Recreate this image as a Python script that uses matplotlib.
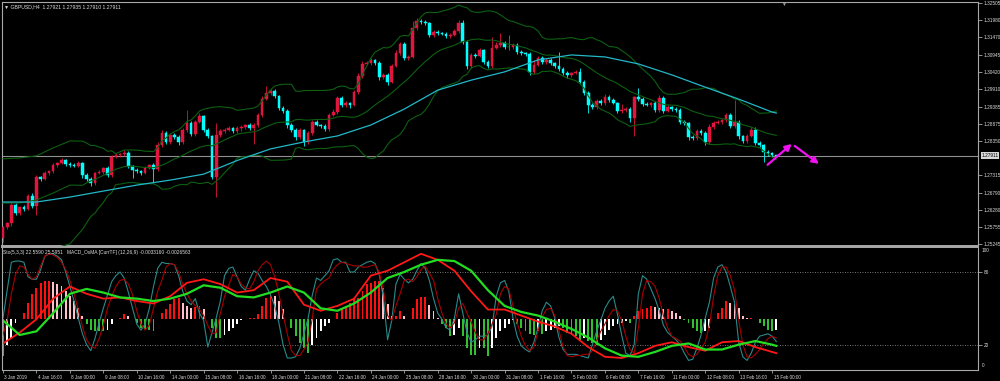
import numpy as np
import pandas as pd
import matplotlib
matplotlib.use('Agg')
import matplotlib.pyplot as plt
import matplotlib.transforms as mtransforms

plt.rcParams['font.family'] = ['Liberation Sans', 'DejaVu Sans']

# GBPUSD H4 closes, 3 Jan 08:00 .. 15 Feb 2019
closes = [
    1.2576, 1.2588, 1.2642, 1.2618, 1.2636, 1.2630, 1.2669, 1.2639, 1.2726, 1.2720,
    1.2738, 1.2744, 1.2763, 1.2769, 1.2778, 1.2766, 1.2763, 1.2760, 1.2769, 1.2732,
    1.2720, 1.2708, 1.2738, 1.2741, 1.2754, 1.2732, 1.2787, 1.2793, 1.2796, 1.2799,
    1.2760, 1.2748, 1.2744, 1.2738, 1.2754, 1.2763, 1.2751, 1.2823, 1.2859, 1.2832,
    1.2853, 1.2847, 1.2832, 1.2868, 1.2889, 1.2856, 1.2892, 1.2910, 1.2868, 1.2850,
    1.2726, 1.2853, 1.2865, 1.2868, 1.2874, 1.2865, 1.2874, 1.2877, 1.2883, 1.2874,
    1.2883, 1.2913, 1.2961, 1.2979, 1.2985, 1.2970, 1.2934, 1.2925, 1.2883, 1.2868,
    1.2847, 1.2868, 1.2832, 1.2859, 1.2892, 1.2883, 1.2880, 1.2871, 1.2913, 1.2922,
    1.2964, 1.2943, 1.2949, 1.2943, 1.2982, 1.3031, 1.3067, 1.3070, 1.3079, 1.3070,
    1.3028, 1.3034, 1.3013, 1.3061, 1.3100, 1.3127, 1.3085, 1.3088, 1.3175, 1.3196,
    1.3193, 1.3190, 1.3154, 1.3163, 1.3160, 1.3157, 1.3151, 1.3154, 1.3166, 1.3190,
    1.3133, 1.3061, 1.3094, 1.3091, 1.3109, 1.3073, 1.3061, 1.3115, 1.3124, 1.3130,
    1.3118, 1.3118, 1.3124, 1.3103, 1.3100, 1.3097, 1.3043, 1.3064, 1.3085, 1.3073,
    1.3079, 1.3070, 1.3061, 1.3052, 1.3040, 1.3034, 1.3040, 1.3043, 1.3013, 1.2979,
    1.2943, 1.2937, 1.2955, 1.2949, 1.2967, 1.2958, 1.2949, 1.2925, 1.2928, 1.2931,
    1.2904, 1.2967, 1.2961, 1.2946, 1.2943, 1.2949, 1.2928, 1.2964, 1.2925, 1.2937,
    1.2931, 1.2928, 1.2892, 1.2889, 1.2847, 1.2844, 1.2865, 1.2859, 1.2832, 1.2877,
    1.2889, 1.2892, 1.2898, 1.2913, 1.2880, 1.2892, 1.2850, 1.2835, 1.2850, 1.2868,
    1.2829, 1.2823, 1.2802, 1.2799, 1.27921, 1.27911,
]
first_open = 1.2543
# wick lengths in pips above/below the body
upper_wick = [
    3, 4, 6, 5, 4, 6, 5, 8, 6, 4,  5, 4, 6, 3, 5, 4, 6, 5, 7, 4,
    5, 6, 4, 5, 3, 6, 5, 7, 4, 9,  5, 4, 6, 3, 5, 4, 6, 8, 9, 5,
    4, 6, 5, 7, 39, 5, 6, 8, 4, 5,  4, 36, 6, 5, 7, 4, 6, 5, 4, 6,
    5, 6, 8, 21, 6, 5, 4, 6, 5, 7,  5, 6, 4, 5, 7, 6, 4, 5, 6, 8,
    6, 5, 7, 4, 6, 8, 9, 5, 6, 4,  5, 7, 6, 5, 8, 7, 5, 6, 21, 9,
    6, 5, 4, 6, 5, 4, 6, 5, 7, 8,  9, 5, 6, 7, 5, 4, 6, 33, 8, 30,
    6, 36, 7, 5, 6, 4, 5, 15, 6, 7,  5, 6, 4, 42, 6, 5, 4, 5, 12, 6,
    5, 6, 7, 5, 9, 6, 5, 4, 18, 6,  5, 4, 27, 6, 5, 4, 6, 9, 5, 6,
    4, 5, 6, 5, 4, 6, 5, 7, 6, 8,  5, 6, 4, 7, 6, 66, 5, 4, 6, 8,
    9, 5, 4, 5, 3, 1.4,
]
lower_wick = [
    12, 5, 8, 6, 5, 7, 4, 6, 27, 5,  4, 6, 5, 7, 4, 5, 6, 4, 5, 8,
    6, 9, 5, 4, 6, 7, 5, 4, 6, 5,  7, 24, 5, 6, 4, 5, 42, 6, 5, 7,
    5, 6, 8, 5, 6, 7, 5, 4, 6, 7,  6, 60, 5, 7, 4, 6, 5, 8, 5, 6,
    48, 5, 6, 4, 5, 7, 6, 5, 8, 6,  9, 5, 12, 6, 5, 4, 7, 6, 5, 4,
    6, 7, 5, 8, 4, 5, 6, 4, 5, 7,  8, 6, 9, 5, 4, 6, 7, 5, 4, 5,
    5, 6, 7, 5, 6, 4, 5, 6, 4, 5,  6, 8, 5, 6, 4, 7, 6, 5, 4, 6,
    5, 10, 6, 5, 7, 6, 8, 5, 4, 6,  5, 6, 7, 5, 6, 8, 5, 4, 6, 7,
    24, 6, 5, 7, 5, 6, 4, 7, 6, 5,  12, 54, 5, 6, 4, 5, 7, 6, 5, 4,
    6, 5, 7, 6, 9, 5, 6, 5, 10, 6,  5, 4, 6, 5, 7, 6, 8, 5, 6, 4,
    7, 6, 30, 9, 6, 0.1,
]

# cyan moving average, read every 8 bars (+ last bar)
ma_bars = list(range(0, 185, 8)) + [185]
ma_vals = [1.2651, 1.2651, 1.2666, 1.2684, 1.2702, 1.2717, 1.2735, 1.2776, 1.2811,
           1.2832, 1.2850, 1.2883, 1.2931, 1.2988, 1.3018, 1.3043, 1.3079, 1.3094,
           1.3088, 1.3067, 1.3034, 1.2997, 1.2961, 1.2922, 1.2919]

# Bollinger bands before 20 bars of history are available on screen
bb_early_bars = [0, 4, 8, 12, 16]
bb_early_upper = [1.2781, 1.2784, 1.2790, 1.2814, 1.2835]
bb_early_mid = [1.2648, 1.2648, 1.2657, 1.2678, 1.2702]
bb_early_lower = [1.2490, 1.2494, 1.2500, 1.2510, 1.2525]

price_ticks = [1.32505, 1.31980, 1.31470, 1.30945, 1.30420, 1.29910, 1.29385,
               1.28875, 1.28350, 1.27315, 1.26790, 1.26280, 1.25755, 1.25245]
last_price = 1.27911

time_labels = ['3 Jan 2019', '4 Jan 16:00', '8 Jan 00:00', '9 Jan 08:00', '10 Jan 16:00',
               '14 Jan 00:00', '15 Jan 08:00', '16 Jan 16:00', '18 Jan 00:00', '21 Jan 08:00',
               '22 Jan 16:00', '24 Jan 00:00', '25 Jan 08:00', '28 Jan 16:00', '30 Jan 00:00',
               '31 Jan 08:00', '1 Feb 16:00', '5 Feb 00:00', '6 Feb 08:00', '7 Feb 16:00',
               '11 Feb 00:00', '12 Feb 08:00', '13 Feb 16:00', '15 Feb 00:00']
label_bars = list(range(0, 185, 8))

# forecast arrows (start, end, start, end)
fc_bars = [182.9, 188.7, 189.4, 195.2]
fc_prices = [1.2763, 1.2826, 1.2820, 1.2766]

# Stochastic (5,3,3) main / signal
sto_main = [
    42, 65, 88, 89, 89, 88, 76, 74, 74, 82,  93, 95, 95, 93, 90, 80, 68, 56, 42, 29,
    20, 15, 25, 38, 50, 61, 72, 77, 80, 75,  63, 50, 37, 32, 37, 50, 68, 83, 88, 87,
    87, 86, 77, 64, 56, 53, 58, 46, 40, 18,  30, 42, 56, 77, 83, 84, 76, 68, 65, 74,
    81, 79, 73, 68, 61, 52, 38, 20, 9, 9,  10, 17, 29, 42, 61, 75, 73, 77, 81, 90,
    91, 88, 88, 80, 80, 84, 86, 88, 89, 87,  78, 59, 24, 40, 70, 78, 74, 71, 74, 81,
    87, 83, 73, 58, 46, 41, 34, 32, 42, 62,  46, 30, 22, 24, 27, 27, 28, 35, 60, 71,
    73, 64, 42, 27, 19, 16, 14, 22, 34, 48,  55, 52, 42, 26, 16, 12, 12, 12, 11, 10,
    9, 20, 31, 40, 50, 56, 60, 45, 28, 13,  11, 20, 62, 77, 74, 66, 58, 48, 36, 30,
    27, 24, 20, 13, 7, 8, 17, 28, 42, 55,  75, 84, 86, 80, 68, 55, 22, 10, 7, 13,
    22, 27, 28, 29, 27, 22.559,
]
sto_signal = [
    28, 40, 62, 78, 85, 84, 78, 74, 76, 85,  93, 95, 94, 92, 88, 82, 73, 62, 49, 35,
    24, 19, 17, 25, 36, 50, 60, 68, 73, 74,  70, 61, 48, 37, 32, 36, 50, 64, 73, 84,
    87, 86, 80, 70, 62, 56, 52, 49, 44, 36,  29, 30, 46, 60, 69, 78, 76, 70, 67, 66,
    72, 81, 86, 89, 86, 76, 62, 45, 29, 15,  11, 11, 16, 22, 42, 66, 70, 73, 75, 82,
    86, 88, 87, 86, 85, 85, 84, 84, 85, 86,  80, 65, 44, 40, 52, 62, 73, 74, 72, 76,
    82, 85, 79, 73, 58, 46, 37, 34, 38, 50,  54, 46, 39, 30, 24, 24, 29, 37, 45, 62,
    68, 66, 52, 38, 27, 19, 15, 18, 31, 43,  49, 50, 44, 32, 18, 11, 10, 11, 11, 12,
    12, 15, 23, 31, 37, 44, 49, 48, 40, 27,  16, 13, 34, 62, 73, 72, 68, 58, 44, 34,
    27, 25, 23, 18, 12, 10, 12, 17, 22, 36,  60, 77, 84, 84, 77, 65, 40, 20, 10, 9,
    12, 16, 21, 25, 27, 25.595,
]
# higher timeframe stochastic lines (thick red / green), every 4 bars
htf_bars = list(range(0, 185, 4)) + [185]
htf_red = [21, 30, 41, 58, 68, 62, 58, 59, 56, 54, 60, 71, 74, 70, 63, 65, 75, 72, 53, 48,
           52, 58, 77, 81, 88, 95, 90, 81, 64, 49, 49, 44, 39, 35, 29, 18, 10, 9, 13, 19,
           22, 18, 15, 22, 23, 18, 14, 13]
htf_green = [40, 28, 31, 46, 62, 66, 63, 59, 58, 56, 58, 62, 69, 67, 60, 59, 63, 68, 63, 50,
             48, 54, 63, 75, 80, 86, 90, 89, 81, 65, 52, 47, 44, 39, 33, 26, 17, 11, 10, 14,
             19, 21, 16, 16, 20, 23, 20, 19]
# MACD OsMA histogram, in units of 2e-5
osma_units = [
    -112, -77, -57, -12, 0, 18, 48, 73, 93, 108,  113, 113, 111, 105, 98, 83, 68, 53, 33, 8,
    -17, -32, -37, -37, -37, -32, -17, 0, 3, 13,  8, -2, -12, -27, -32, -32, -35, -2, 18, 28,
    43, 58, 63, 48, 38, 33, 35, 38, 28, 0,  -27, -57, -57, -47, -37, -27, -15, -5, 0, 1,
    3, 13, 38, 63, 73, 68, 53, 28, 0, -27,  -52, -72, -87, -102, -77, -57, -37, -22, -12, -2,
    18, 28, 38, 48, 58, 63, 83, 103, 108, 113,  113, 93, 43, 8, 8, 23, 8, 0, 33, 58,
    65, 65, 41, 23, 3, -17, -27, -52, -47, -27,  -52, -87, -107, -107, -87, -87, -112, -87, -57, -37,
    -27, -17, -5, -15, -27, -37, -45, -49, -37, -45,  -37, -32, -27, -22, -27, -42, -47, -52, -62, -57,
    -67, -72, -77, -62, -47, -32, -22, -17, -12, -7,  -12, 8, 23, 28, 33, 38, 35, 33, 28, 28,
    23, 18, 8, -5, -12, -27, -37, -42, -37, -27,  0, 18, 33, 53, 48, 43, 33, 8, 3, 3,
    -2, -12, -22, -32, -35, -32,
]

# ---- derived series ----
closes = np.array(closes)
n = len(closes)
x = np.arange(n)
opens = np.r_[first_open, closes[:-1]]
highs = np.maximum(opens, closes) + np.array(upper_wick) * 1e-4
lows = np.minimum(opens, closes) - np.array(lower_wick) * 1e-4

s = pd.Series(closes)
mid = s.rolling(20).mean().values
sd = s.rolling(20).std(ddof=0).values
bb_x = np.r_[bb_early_bars, np.arange(19, n)]
bb_up = np.r_[bb_early_upper, (mid + 2 * sd)[19:]]
bb_md = np.r_[bb_early_mid, mid[19:]]
bb_lo = np.r_[bb_early_lower, (mid - 2 * sd)[19:]]

osma = np.array(osma_units) * 2e-5

# ---- figure ----
W, H = 1000, 381
fig = plt.figure(figsize=(W / 100, H / 100), dpi=100, facecolor='black')
px = lambda l, t, r, b: [l / W, 1 - b / H, (r - l) / W, (b - t) / H]
ax = fig.add_axes(px(2, 2, 978, 246))
ax_sto = fig.add_axes(px(2, 247.5, 978, 369.5))
xlim = ((2 - 3) / 4.18, (978 - 3) / 4.18)

frame = '#a8a8a8'
txt = '#dcdcdc'
for a in (ax, ax_sto):
    a.set_facecolor('black')
    a.set_xlim(*xlim)
    for sp in a.spines.values():
        sp.set_color(frame)
        sp.set_linewidth(0.8)
ax.spines['bottom'].set_linewidth(1.4)
ax_sto.spines['top'].set_linewidth(1.4)

# candles
up_col, dn_col, doji_col = '#e0163f', '#00ffff', '#00c000'
cols = np.where(closes > opens, up_col, np.where(closes < opens, dn_col, doji_col))
ax.vlines(x, lows, highs, colors=cols, linewidth=0.6, zorder=2)
ax.bar(x, closes - opens, bottom=opens, width=0.64, color=cols, edgecolor=cols,
       linewidth=0.35, zorder=3)

# bands and MA
ax.plot(bb_x, bb_up, color='#0c6010', lw=0.8, zorder=4)
ax.plot(bb_x, bb_md, color='#0c6010', lw=0.8, zorder=4)
ax.plot(bb_x, bb_lo, color='#0c6010', lw=0.8, zorder=4)
ax.plot(ma_bars, ma_vals, color='#22b8c8', lw=0.9, zorder=4)

# last price line and forecast arrows
ax.axhline(last_price, color='#909090', lw=0.8, zorder=1)
for k in range(0, len(fc_bars), 2):
    ax.annotate('', xy=(fc_bars[k + 1], fc_prices[k + 1]), xytext=(fc_bars[k], fc_prices[k]),
                arrowprops=dict(arrowstyle='-|>,head_length=0.55,head_width=0.28',
                                color='#f010f0', lw=1.6, shrinkA=0, shrinkB=0,
                                mutation_scale=7), zorder=6)

ax.set_ylim(1.32595 - 0.0003012 * 246, 1.32595 - 0.0003012 * 2)
ax.set_xticks([])
ax.yaxis.tick_right()
ax.set_yticks(price_ticks)
ax.set_yticklabels([f'{p:.5f}' for p in price_ticks])
ax.tick_params(axis='y', length=3, width=0.6, color=frame, labelsize=3.4,
               labelcolor=txt, pad=1)
ax.text(1.0035, last_price, f'{last_price:.5f}', fontsize=3.4, color='black',
        transform=mtransforms.blended_transform_factory(ax.transAxes, ax.transData),
        ha='left', va='center', clip_on=False,
        bbox=dict(boxstyle='square,pad=0.18', fc='#d8d8d8', ec='none'))

# ---- indicator window ----
ax_os = ax_sto.twinx()
ax_sto.set_zorder(ax_os.get_zorder() + 1)
ax_sto.patch.set_visible(False)
h_cols = []
for i, v in enumerate(osma):
    prev = osma[i - 1] if i > 0 else v
    if v >= 0:
        h_cols.append('#ff1010' if v >= prev else '#ffc0cb')
    else:
        h_cols.append('#30c030' if v <= prev else '#ffffff')
ax_os.bar(x, osma, width=0.45, color=h_cols, linewidth=0)
ax_os.set_ylim(-151.5 * 2e-5, 213 * 2e-5)
ax_os.set_yticks([])
for sp in ax_os.spines.values():
    sp.set_visible(False)

for lvl in (20, 80):
    ax_sto.axhline(lvl, color='#a0a0a0', lw=0.6, ls=(0, (1, 2)))
ax_sto.plot(x, sto_main, color='#2a8a8a', lw=0.8)
ax_sto.plot(x, sto_signal, color='#a80000', lw=0.8)
ax_sto.plot(htf_bars, htf_red, color='#ff1818', lw=1.3)
ax_sto.plot(htf_bars, htf_green, color='#22dd22', lw=1.6)
ax_sto.set_ylim(-0.5, 100.2)

ax_sto.yaxis.tick_right()
ax_sto.set_yticks([20, 80])
ax_sto.set_yticklabels(['20', '80'])
ax_sto.tick_params(axis='y', length=3, width=0.6, color=frame, labelsize=3.4,
                   labelcolor=txt, pad=1)
bt = mtransforms.blended_transform_factory(ax_sto.transAxes, ax_sto.transData)
ax_sto.text(1.004, 97.5, '100', transform=bt, fontsize=3.4, color=txt, va='center', clip_on=False)
ax_sto.text(1.004, 2.5, '0', transform=bt, fontsize=3.4, color=txt, va='center', clip_on=False)

ax_sto.set_xticks(label_bars)
ax_sto.set_xticklabels(time_labels, ha='left')
ax_sto.tick_params(axis='x', length=2.5, width=0.6, color=frame, labelsize=3.3,
                   labelcolor=txt, pad=1.2)
shift = mtransforms.ScaledTranslation(1.5 / 100, 0, fig.dpi_scale_trans)
for lbl in ax_sto.get_xticklabels():
    lbl.set_transform(lbl.get_transform() + shift)

# window captions
fig.text(4 / W, 1 - 6.5 / H, '\u25bc GBPUSD,H4  1.27921 1.27935 1.27910 1.27911',
         fontsize=3.7, color=txt, va='center', ha='left')
fig.text(3 / W, 1 - 252.5 / H,
         'Sto(5,3,3) 22.5590 25.5951   MACD_OsMA [CurrTF] (12,26,9) -0.0033160 -0.0026563',
         fontsize=3.5, color=txt, va='center', ha='left')
fig.text(783 / W, 1 - 4.5 / H, '\u25bc', fontsize=3.5, color='#a0a0a0', ha='center', va='center')

fig.savefig('out.png', dpi=100, facecolor='black')
